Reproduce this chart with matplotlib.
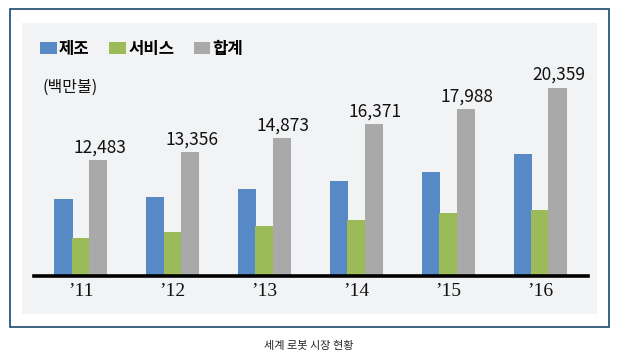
import numpy as np
import matplotlib
matplotlib.use('Agg')
import matplotlib.pyplot as plt
from matplotlib.patches import Rectangle, Patch

plt.rcParams['font.family'] = ['Noto Sans CJK KR', 'DejaVu Sans']

YEARS = ['’11', '’12', '’13', '’14', '’15', '’16']
SERIES = ['제조', '서비스', '합계']
MANUF = [8350, 8550, 9450, 10300, 11200, 13200]
SERVICE = [4130, 4800, 5420, 6070, 6790, 7160]
TOTAL = [12483, 13356, 14873, 16371, 17988, 20359]
COLORS = ['#5689C5', '#9BBB59', '#A9A9A9']

W, H = 618, 361
fig = plt.figure(figsize=(W / 100, H / 100), dpi=100)
fig.patch.set_facecolor('white')

# outer frame and grey panel (figure pixel coordinates)
def px_rect(x0, y0, x1, y1, **kw):
    return Rectangle((x0 / W, 1 - y1 / H), (x1 - x0) / W, (y1 - y0) / H,
                     transform=fig.transFigure, **kw)

fig.patches.append(px_rect(22, 23, 597, 314, facecolor='#F2F3F5', lw=0, zorder=-2))
fig.patches.append(px_rect(9.5, 8.5, 608.5, 326.5, facecolor='none',
                           edgecolor='#1B4A6B', lw=1.2, zorder=-1))

ax = fig.add_axes([34 / W, 85 / H, (588 - 34) / W, (301 - 85) / H])
ax.set_facecolor('none')
ax.set_zorder(1)

x = np.arange(len(YEARS))
bw, off = 0.2, 0.19
for k, (vals, c) in enumerate(zip([MANUF, SERVICE, TOTAL], COLORS)):
    ax.bar(x + (k - 1) * off, vals, width=bw, color=c, lw=0, zorder=2)
for xi, v in zip(x, TOTAL):
    ax.annotate(f'{v:,}', (xi + off, v), xytext=(1, 3), textcoords='offset points',
                ha='center', va='bottom', fontsize=12.5, color='#111111')

ax.set_xlim(-0.51, 5.52)
ax.set_ylim(0, 23330)
ax.set_yticks([])
ax.set_xticks(x)
ax.set_xticklabels(YEARS, family='Liberation Serif', fontsize=14, color='#111111')
ax.tick_params(axis='x', length=0, pad=5)
for s in ['top', 'right', 'left']:
    ax.spines[s].set_visible(False)
ax.spines['bottom'].set_linewidth(2.6)
ax.spines['bottom'].set_color('black')

handles = [Patch(facecolor=c, lw=0) for c in COLORS]
leg = fig.legend(handles, SERIES, loc='upper left', ncol=3, frameon=False,
                 bbox_to_anchor=(40 / W, 1 - 40 / H), bbox_transform=fig.transFigure,
                 borderpad=0, borderaxespad=0, handlelength=1.0, handleheight=0.7,
                 handletextpad=0.15, columnspacing=1.15,
                 prop={'size': 12, 'weight': 'semibold'})

fig.text(42 / W, 1 - 87 / H, '(백만불)', fontsize=11.5, va='center', ha='left',
         color='#111111', weight='medium')
fig.text(309 / W, 1 - 346 / H, '세계 로봇 시장 현황', fontsize=8, ha='center',
         va='center', color='#222222')

fig.savefig('out.png', dpi=100)
